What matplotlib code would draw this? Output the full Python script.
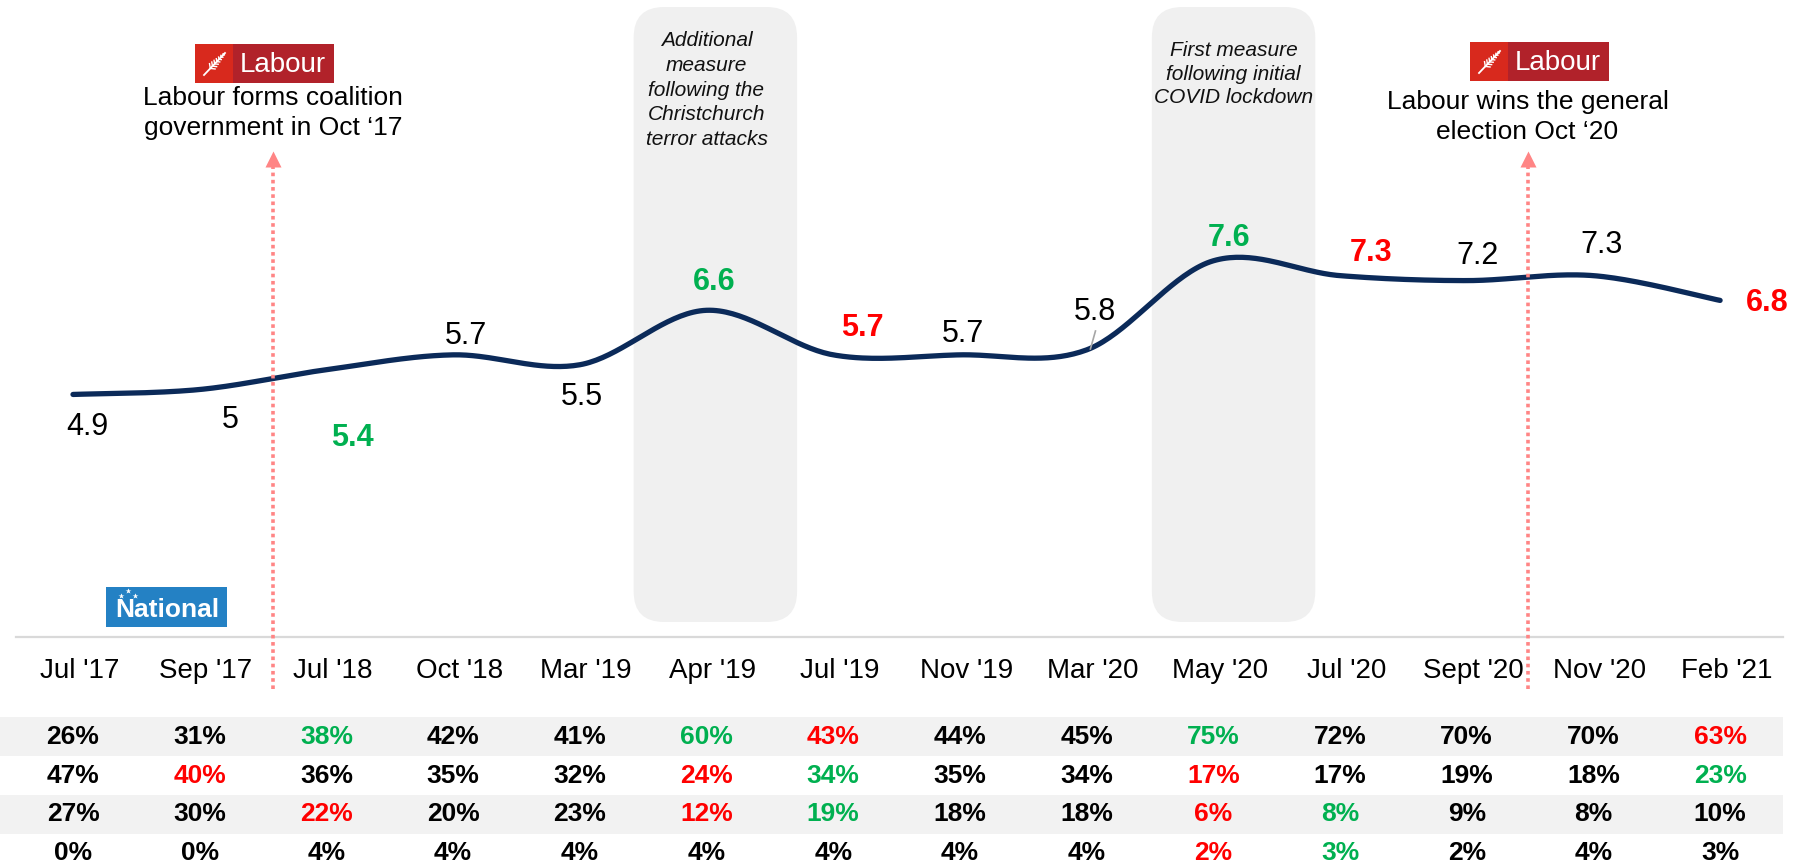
import numpy as np
import matplotlib.pyplot as plt
from matplotlib.patches import FancyBboxPatch, Rectangle

plt.rcParams['font.family'] = ['Liberation Sans', 'DejaVu Sans']

# ---- data ----
waves = ["Jul '17", "Sep '17", "Jul '18", "Oct '18", "Mar '19", "Apr '19", "Jul '19",
         "Nov '19", "Mar '20", "May '20", "Jul '20", "Sept '20", "Nov '20", "Feb '21"]
score = [4.9, 5.0, 5.4, 5.7, 5.5, 6.6, 5.7, 5.7, 5.8, 7.6, 7.3, 7.2, 7.3, 6.8]
score_sig = [0, 0, 1, 0, 0, 1, -1, 0, 0, 1, -1, 0, 0, -1]

row1 = [26, 31, 38, 42, 41, 60, 43, 44, 45, 75, 72, 70, 70, 63]
row1_sig = [0, 0, 1, 0, 0, 1, -1, 0, 0, 1, 0, 0, 0, -1]
row2 = [47, 40, 36, 35, 32, 24, 34, 35, 34, 17, 17, 19, 18, 23]
row2_sig = [0, -1, 0, 0, 0, -1, 1, 0, 0, -1, 0, 0, 0, 1]
row3 = [27, 30, 22, 20, 23, 12, 19, 18, 18, 6, 8, 9, 8, 10]
row3_sig = [0, 0, -1, 0, 0, -1, 1, 0, 0, -1, 1, 0, 0, 0]
row4 = [0, 0, 4, 4, 4, 4, 4, 4, 4, 2, 3, 2, 4, 3]
row4_sig = [0, 0, 0, 0, 0, 0, 0, 0, 0, -1, 1, 0, 0, 0]

events = ["Labour forms coalition\ngovernment in Oct \u201817",
          "Labour wins the general\nelection Oct \u201820"]
event_at = [1.58, 11.48]
notes = ["Additional\nmeasure\nfollowing the\nChristchurch\nterror attacks",
         "First measure\nfollowing initial\nCOVID lockdown"]
note_at = [5.07, 9.16]

# ---- layout (pixels) ----
W, H = 1806, 864
BASE = 637          # chart baseline, px from top
X0, DX = 73, 126.7  # first wave centre, px per wave
DY = 49.5           # px per score point
GREEN, RED = '#00B050', '#FF0000'
NAVY = '#0B2A59'
PINK = '#FF8585'

def sig_color(s):
    return GREEN if s > 0 else (RED if s < 0 else 'black')

def py(px):
    # pixel row -> score units of the main axes
    return (BASE - px) / DY

fig = plt.figure(figsize=(W / 100, H / 100), dpi=100)
xlim = (-X0 / DX, (W - X0) / DX)

ax = fig.add_axes([0, 1 - BASE / H, 1, BASE / H])
ax.set_xlim(*xlim)
ax.set_ylim(0, BASE / DY)
ax.axis('off')

tx = fig.add_axes([0, 0, 1, 1 - BASE / H])
tx.set_xlim(*xlim)
tx.set_ylim(H, BASE)
tx.axis('off')

ov = fig.add_axes([0, 0, 1, 1])
ov.set_xlim(0, W)
ov.set_ylim(H, 0)
ov.axis('off')
ov.patch.set_visible(False)

# shaded note boxes
box_w = 1.29
r = 0.24
for xc in note_at:
    b = FancyBboxPatch((xc - box_w / 2, py(622)), box_w, py(7) - py(622),
                       boxstyle=f'round,pad=0,rounding_size={r}',
                       mutation_aspect=DX / DY, fc='#F0F0F0', ec='none', zorder=0)
    ax.add_patch(b)
note_x = [5, 9.16]
for xc, txt, ty, ls in zip(note_x, notes, [90, 74], [1.37, 1.3]):
    ax.text(xc, py(ty), txt, ha='center', va='center', fontsize=15,
            style='italic', linespacing=ls, color='#111111', zorder=2)

# smoothed line
def smooth(xs, ys, n=40):
    P = np.column_stack([xs, ys]).astype(float)
    P = np.vstack([P[0], P, P[-1]])
    out = []
    t = np.linspace(0, 1, n)[:, None]
    for i in range(1, len(P) - 2):
        p0, p1, p2, p3 = P[i - 1], P[i], P[i + 1], P[i + 2]
        c1 = p1 + (p2 - p0) / 6
        c2 = p2 - (p3 - p1) / 6
        seg = (1 - t) ** 3 * p1 + 3 * (1 - t) ** 2 * t * c1 + 3 * (1 - t) * t ** 2 * c2 + t ** 3 * p2
        out.append(seg if i == 1 else seg[1:])
    return np.vstack(out)

xs = np.arange(len(score))
curve = smooth(xs, score)
ax.plot(curve[:, 0], curve[:, 1], color=NAVY, lw=3.8, solid_capstyle='round', zorder=3)

# value labels
offsets = [(14, -33), (31, -31), (26, -68), (13, 19), (2, -32), (8, 28), (29, 27),
           (3, 21), (8, 38), (16, 23), (31, 23), (11, 25), (8, 31), (47, -3)]
for i, (v, s, off) in enumerate(zip(score, score_sig, offsets)):
    ax.annotate(f'{v:g}', (i, v), xytext=off, textcoords='offset pixels',
                ha='center', va='center', fontsize=22, color=sig_color(s),
                fontweight='bold' if s else 'normal', zorder=4)
ax.plot([8.07, 8.03], [py(331), py(349)], color='#A6A6A6', lw=1.2, zorder=4)

# baseline
ax.axhline(0, xmin=16 / W, xmax=1783 / W, color='#D9D9D9', lw=1.6, clip_on=False)

# event arrows
for xe, txt, ty in zip(event_at, events, [113, 117]):
    ax.plot([xe, xe], [py(689), py(164)], color=PINK, lw=2.6, ls=(0, (1, 1)),
            dash_capstyle='butt', clip_on=False, zorder=5)
    ax.plot([xe], [py(159)], marker='^', ms=11, color=PINK, mec='none',
            clip_on=False, zorder=5)
    ax.text(xe, py(ty), txt, ha='center', va='center', fontsize=19,
            linespacing=1.36, color='black', zorder=5)

# table
tx.add_patch(Rectangle((xlim[0], 717), 13.5 - xlim[0], 39, fc='#F2F2F2', ec='none', zorder=0))
tx.add_patch(Rectangle((xlim[0], 795), 13.5 - xlim[0], 39, fc='#F2F2F2', ec='none', zorder=0))
for i, w in enumerate(waves):
    tx.text(i + 0.05, 671, w, ha='center', va='center', fontsize=20, color='black')
rows = [(row1, row1_sig), (row2, row2_sig), (row3, row3_sig), (row4, row4_sig)]
for r_i, (vals, sigs) in enumerate(rows):
    yrow = 737 + 38.7 * r_i
    for i, (v, s) in enumerate(zip(vals, sigs)):
        tx.text(i, yrow, f'{v}%', ha='center', va='center', fontsize=19,
                fontweight='bold', color=sig_color(s))

# logos
def labour_logo(x0, y0):
    ov.add_patch(Rectangle((x0, y0), 38, 39, fc='#D8291D', ec='none'))
    ov.add_patch(Rectangle((x0 + 38, y0), 101, 39, fc='#B1222A', ec='none'))
    ov.text(x0 + 38 + 50, y0 + 21, 'Labour', ha='center', va='center',
            fontsize=20, color='white')
    a = np.array([x0 + 9, y0 + 31])
    b = np.array([x0 + 30, y0 + 9])
    ov.plot([a[0], b[0]], [a[1], b[1]], color='white', lw=1.3)
    d = (b - a) / np.linalg.norm(b - a)
    p = np.array([d[1], -d[0]])
    for t in np.linspace(0.3, 0.92, 7):
        c = a + (b - a) * t
        ln = 6 * (1.1 - t)
        for sgn in (1, -1):
            e = c + (d * 0.6 + sgn * p * 0.8) * ln
            ov.plot([c[0], e[0]], [c[1], e[1]], color='white', lw=1.0)

labour_logo(195, 44)
labour_logo(1470, 42)

ov.add_patch(Rectangle((106, 587), 121, 40, fc='#2481C4', ec='none'))
ov.text(167, 610, 'National', ha='center', va='center', fontsize=19,
        fontweight='bold', color='white')
ov.plot([121, 128, 135], [596, 591, 596], ls='none', marker='*', ms=4,
        color='white', mec='none')

fig.savefig('out.png', dpi=100)
